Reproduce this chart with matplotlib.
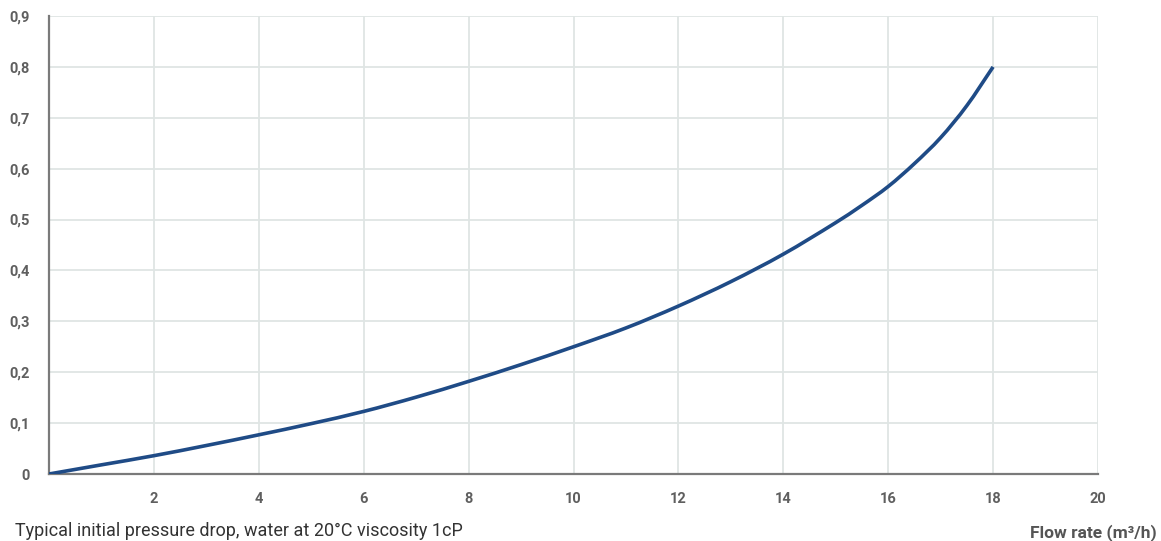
import matplotlib
matplotlib.use("Agg")
import matplotlib.pyplot as plt
from matplotlib.ticker import FuncFormatter
from matplotlib.path import Path
from matplotlib.patches import PathPatch

flow = [0, 1, 2, 3, 4, 5, 6, 7, 8, 9, 10, 11, 12, 13, 14, 15, 15.5, 16, 16.5, 17, 17.5, 18]
drop = [0, 0.018, 0.036, 0.056, 0.077, 0.099, 0.123, 0.151, 0.182, 0.215, 0.250,
        0.287, 0.330, 0.378, 0.432, 0.494, 0.528, 0.565, 0.610, 0.661, 0.724, 0.800]
x_ticks = [2, 4, 6, 8, 10, 12, 14, 16, 18, 20]
y_ticks = [0, 0.1, 0.2, 0.3, 0.4, 0.5, 0.6, 0.7, 0.8, 0.9]
caption = "Typical initial pressure drop, water at 20°C viscosity 1cP"
x_label = "Flow rate (m³/h)"

plt.rcParams['font.family'] = ['Roboto', 'DejaVu Sans']

fig = plt.figure(figsize=(11.61, 5.41), dpi=100)
ax = fig.add_axes([49/1161, 1-474/541, (1098-49)/1161, (474-16)/541])

# smooth rendering through the read points (cubic Hermite segments as Bezier curves)
n = len(flow)
slopes = []
for i in range(n):
    a = max(i - 1, 0)
    b = min(i + 1, n - 1)
    slopes.append((drop[b] - drop[a]) / (flow[b] - flow[a]))
verts = [(flow[0], drop[0])]
codes = [Path.MOVETO]
for i in range(n - 1):
    h = flow[i + 1] - flow[i]
    verts += [(flow[i] + h / 3, drop[i] + slopes[i] * h / 3),
              (flow[i + 1] - h / 3, drop[i + 1] - slopes[i + 1] * h / 3),
              (flow[i + 1], drop[i + 1])]
    codes += [Path.CURVE4] * 3
ax.add_patch(PathPatch(Path(verts, codes), fill=False, edgecolor="#1f4b86",
                       lw=2.6, capstyle='butt', zorder=3))

ax.set_xlim(0, 20)
ax.set_ylim(0, 0.9)
ax.set_xticks(x_ticks)
ax.set_yticks(y_ticks)
ax.yaxis.set_major_formatter(FuncFormatter(lambda v, p: "0" if v == 0 else f"{v:.1f}".replace(".", ",")))
ax.grid(True, color="#dfe5e4", lw=1.3, zorder=0)
ax.set_axisbelow(True)
for s in ["top", "right"]:
    ax.spines[s].set_visible(False)
for s in ["left", "bottom"]:
    ax.spines[s].set_color("#7a7a7a")
    ax.spines[s].set_linewidth(1.6)
ax.tick_params(axis='both', length=0, labelsize=10.5, labelcolor="#5f5f5f")
ax.tick_params(axis='x', pad=13)
ax.tick_params(axis='y', pad=14)
for lab in ax.get_xticklabels() + ax.get_yticklabels():
    lab.set_fontweight('bold')

fig.text(15/1161, 1-531/541, caption, fontsize=13, color="#333333", va='center', ha='left')
fig.text(1157/1161, 1-533/541, x_label, fontsize=12.5, color="#555555", va='center', ha='right', fontweight='bold')

fig.savefig("out.png", dpi=100)
